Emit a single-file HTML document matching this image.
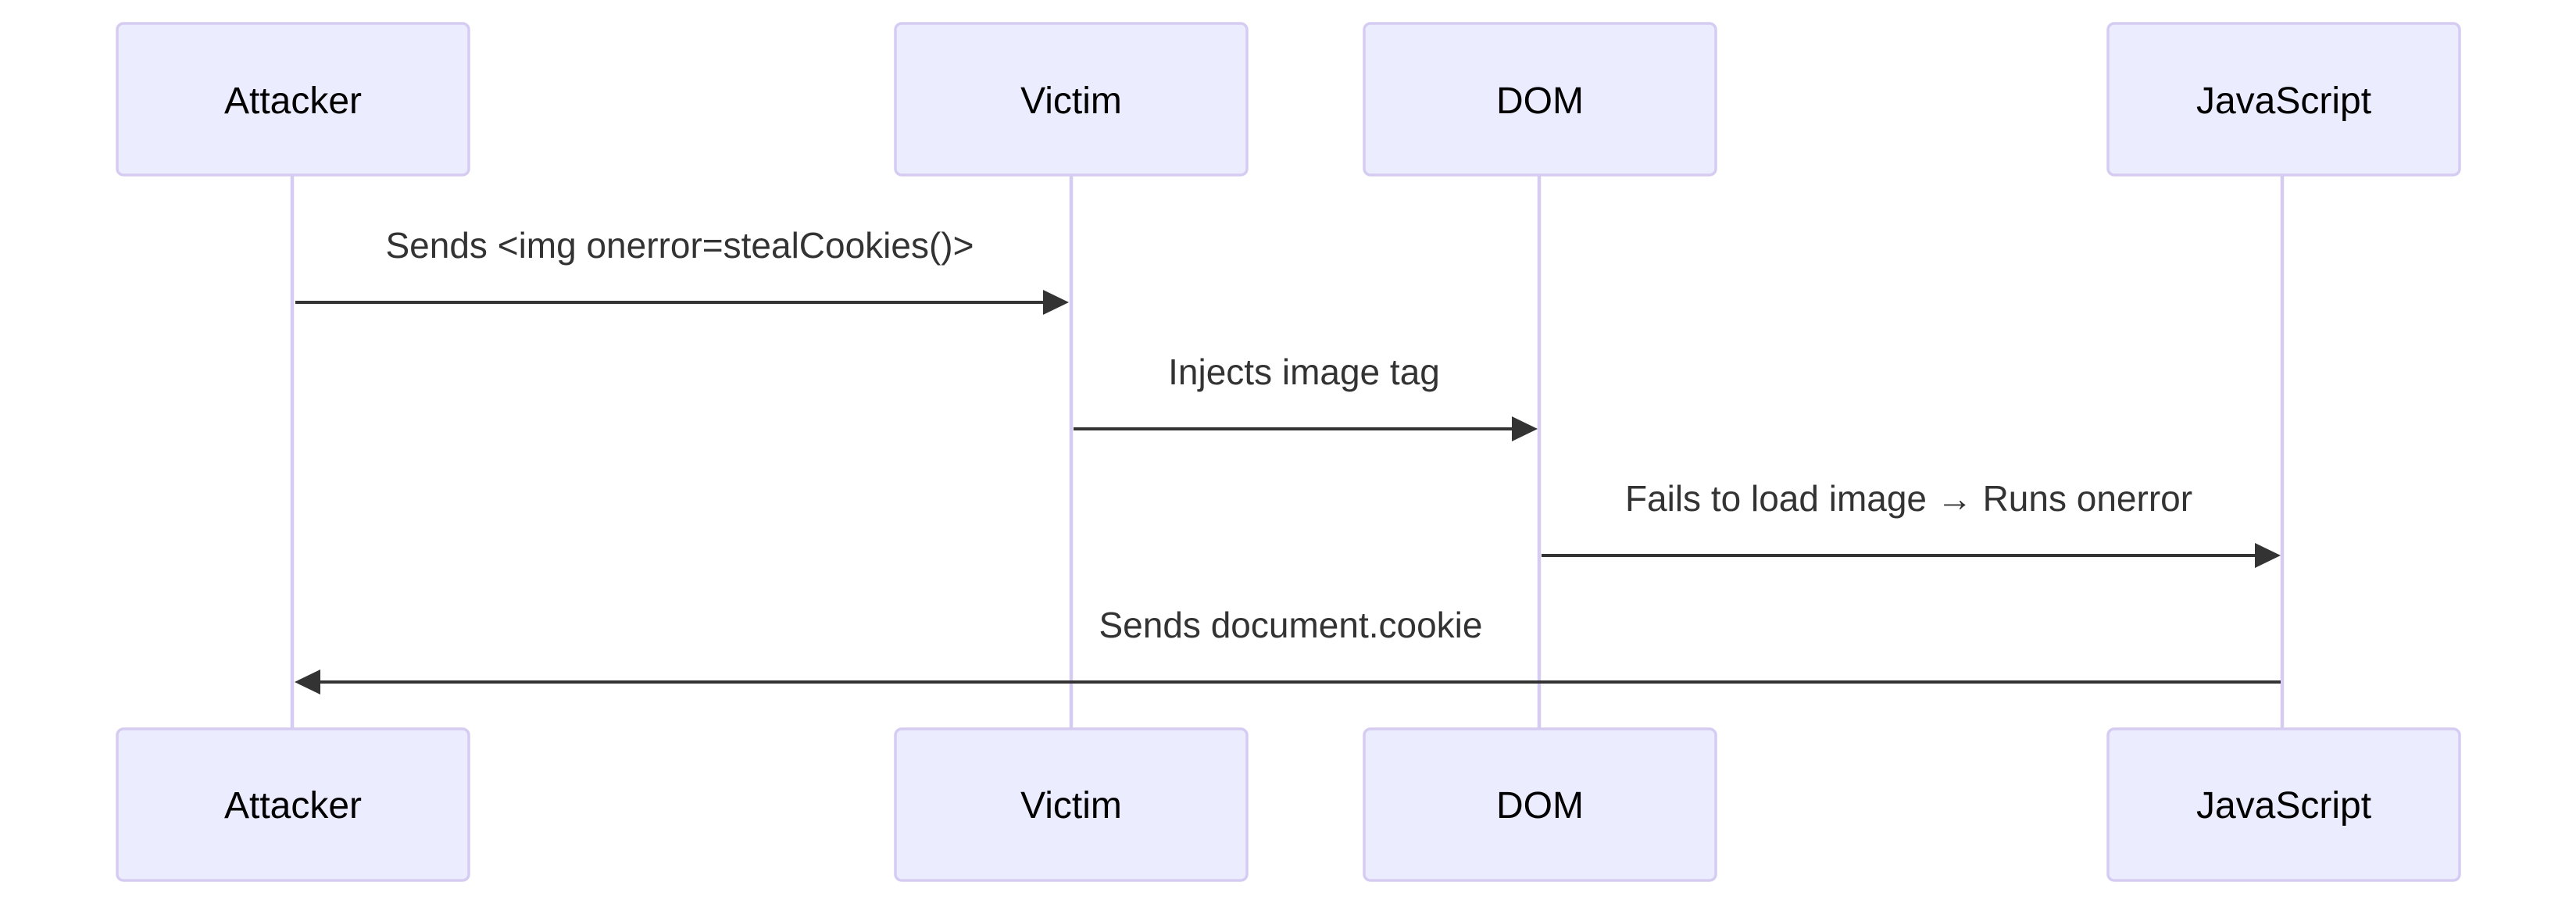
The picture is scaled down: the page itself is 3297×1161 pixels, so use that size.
<!DOCTYPE html>
<html><head><meta charset="utf-8"><style>
html,body{margin:0;padding:0;background:#fff;}
svg{display:block;}
text{font-family:"Liberation Sans",sans-serif;}
</style></head><body>
<svg width="3297" height="1161" viewBox="0 0 3297 1161" xmlns="http://www.w3.org/2000/svg">
<g stroke="#d6ccf2" stroke-width="4.5">
<line x1="374" y1="224" x2="374" y2="932"/>
<line x1="1371" y1="224" x2="1371" y2="932"/>
<line x1="1970" y1="224" x2="1970" y2="932"/>
<line x1="2921" y1="224" x2="2921" y2="932"/>
</g>
<g fill="#ececff" stroke="#d6ccf2" stroke-width="3.5">
<rect x="150" y="30" width="450" height="194" rx="8"/>
<rect x="1146" y="30" width="450" height="194" rx="8"/>
<rect x="1746" y="30" width="450" height="194" rx="8"/>
<rect x="2698" y="30" width="450" height="194" rx="8"/>
<rect x="150" y="933" width="450" height="194" rx="8"/>
<rect x="1146" y="933" width="450" height="194" rx="8"/>
<rect x="1746" y="933" width="450" height="194" rx="8"/>
<rect x="2698" y="933" width="450" height="194" rx="8"/>
</g>
<g font-size="48" fill="#000" text-anchor="middle">
<text x="375" y="145">Attacker</text>
<text x="1371" y="145">Victim</text>
<text x="1971" y="145">DOM</text>
<text x="2923" y="145">JavaScript</text>
<text x="375" y="1047">Attacker</text>
<text x="1371" y="1047">Victim</text>
<text x="1971" y="1047">DOM</text>
<text x="2923" y="1047">JavaScript</text>
</g>
<g font-size="46" fill="#333" text-anchor="middle">
<text x="870" y="330">Sends &lt;img onerror=stealCookies()&gt;</text>
<text x="1669" y="492">Injects image tag</text>
<text x="2443" y="654">Fails to load image → Runs onerror</text>
<text x="1652" y="816">Sends document.cookie</text>
</g>
<g stroke="#333" stroke-width="4">
<line x1="378" y1="387" x2="1340" y2="387"/>
<line x1="1374" y1="549" x2="1940" y2="549"/>
<line x1="1973" y1="711" x2="2890" y2="711"/>
<line x1="2919" y1="873" x2="405" y2="873"/>
</g>
<g fill="#333">
<polygon points="1335,371 1368,387 1335,403"/>
<polygon points="1935,533 1968,549 1935,565"/>
<polygon points="2886,695 2919,711 2886,727"/>
<polygon points="410,857 377,873 410,889"/>
</g>
</svg>
</body></html>
